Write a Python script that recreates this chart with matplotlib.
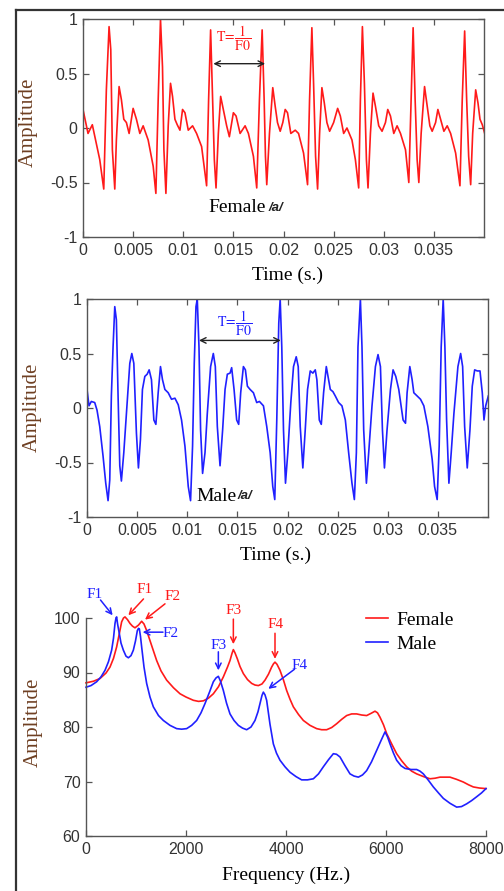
import matplotlib
matplotlib.use("Agg")
import matplotlib.pyplot as plt
from matplotlib.lines import Line2D
import numpy as np

# ---------------- data ----------------
female_t_ms = [0, 0.5, 0.93, 1.67, 2.07, 2.33, 2.6, 2.77, 2.93, 3.17, 3.33, 3.6, 3.83, 4.07, 4.33, 4.6,
               5.0, 5.33, 5.67, 6.0, 6.5, 7.0, 7.27, 7.5, 7.73, 7.93, 8.07, 8.27, 8.5, 8.73, 8.93, 9.17,
               9.4, 9.67, 9.93, 10.17, 10.5, 10.93, 11.33, 11.83, 12.33, 12.53, 12.73, 12.93, 13.1, 13.27,
               13.5, 13.73, 14.0, 14.33, 14.6, 15.0, 15.27, 15.67, 16.17, 16.5, 17.0, 17.33, 17.6, 17.87,
               18.07, 18.2, 18.33, 18.6, 18.93, 19.17, 19.4, 19.67, 19.93, 20.17, 20.4, 20.73, 21.17, 21.5,
               22.0, 22.4, 22.6, 22.83, 23.0, 23.2, 23.4, 23.6, 23.83, 24.07, 24.33, 24.6, 25.0, 25.4,
               25.67, 26.0, 26.33, 26.83, 27.17, 27.5, 27.67, 27.87, 28.07, 28.27, 28.43, 28.67, 28.93,
               29.17, 29.5, 29.83, 30.17, 30.4, 30.67, 31.0, 31.33, 31.67, 32.17, 32.5, 32.73, 32.93,
               33.13, 33.33, 33.5, 33.73, 34.07, 34.33, 34.6, 34.83, 35.17, 35.4, 35.67, 36.0, 36.33,
               36.67, 37.17, 37.6, 37.83, 38.07, 38.27, 38.47, 38.67, 38.87, 39.17, 39.4, 39.6, 39.83, 40.1]
female_amp = [0.17, -0.05, 0.03, -0.29, -0.56, 0.35, 0.93, 0.72, -0.2, -0.56, -0.11, 0.38, 0.26, 0.08, 0.05, -0.05,
              0.18, 0.08, -0.05, 0.02, -0.11, -0.35, -0.6, 0.26, 1.0, 0.56, -0.2, -0.6, 0.02, 0.41, 0.29, 0.08,
              0.03, -0.02, 0.17, 0.14, -0.02, 0.02, -0.05, -0.17, -0.53, 0.26, 0.9, 0.26, -0.29, -0.55,
              -0.05, 0.29, 0.17, 0.02, -0.08, 0.14, 0.11, -0.05, 0.02, -0.05, -0.26, -0.55, 0.26, 0.9,
              0.26, -0.26, -0.52, -0.05, 0.37, 0.2, 0.05, -0.03, 0.05, 0.17, 0.14, -0.05, -0.02, -0.05,
              -0.23, -0.52, 0.26, 0.92, 0.41, -0.26, -0.56, -0.05, 0.37, 0.23, 0.05, -0.03, 0.05, 0.18,
              0.11, -0.05, 0.0, -0.11, -0.29, -0.55, 0.26, 0.93, 0.41, -0.29, -0.55, -0.05, 0.32,
              0.2, 0.02, -0.03, 0.05, 0.17, 0.11, -0.05, 0.02, -0.05, -0.2, -0.5, 0.26, 0.92,
              0.26, -0.29, -0.5, -0.05, 0.38, 0.2, 0.02, -0.03, 0.05, 0.17, 0.08, -0.03, 0.02,
              -0.05, -0.23, -0.53, 0.26, 0.89, 0.26, -0.26, -0.52, -0.05, 0.35, 0.23, 0.08, 0.03, -0.06]

male_t_ms = [0, 0.2, 0.43, 0.77, 1.0, 1.27, 1.6, 1.87, 2.1, 2.27, 2.43, 2.6, 2.77, 2.93, 3.1, 3.27, 3.43,
             3.67, 3.93, 4.27, 4.47, 4.67, 4.93, 5.13, 5.33, 5.53, 5.77, 6.0, 6.2, 6.43, 6.67, 6.87, 7.1,
             7.33, 7.53, 7.77, 8.1, 8.43, 8.77, 9.1, 9.43, 9.77, 10.1, 10.33, 10.53, 10.7, 10.87, 11.0,
             11.17, 11.33, 11.53, 11.77, 12.0, 12.33, 12.6, 12.8, 13.0, 13.27, 13.53, 13.77, 14.0, 14.27,
             14.43, 14.67, 14.93, 15.13, 15.33, 15.6, 15.8, 16.0, 16.27, 16.6, 16.93, 17.2, 17.6, 17.93,
             18.27, 18.53, 18.73, 18.93, 19.13, 19.27, 19.43, 19.6, 19.8, 20.03, 20.33, 20.6, 20.87, 21.07,
             21.27, 21.53, 21.77, 22.0, 22.27, 22.53, 22.77, 22.93, 23.17, 23.37, 23.6, 23.87, 24.1, 24.27,
             24.53, 24.77, 25.1, 25.43, 25.77, 26.1, 26.43, 26.67, 26.87, 27.03, 27.27, 27.43, 27.6, 27.87,
             28.1, 28.43, 28.77, 29.03, 29.27, 29.47, 29.67, 29.93, 30.27, 30.53, 30.8, 31.1, 31.53, 31.77,
             31.93, 32.2, 32.43, 32.6, 32.93, 33.27, 33.6, 34.0, 34.43, 34.67, 34.93, 35.13, 35.33, 35.53,
             35.7, 35.87, 36.1, 36.33, 36.6, 37.0, 37.27, 37.47, 37.67, 37.93, 38.2, 38.43, 38.67, 38.93,
             39.2, 39.43, 39.6, 39.77, 40.03]
male_amp = [0.17, 0.02, 0.06, 0.05, -0.02, -0.17, -0.44, -0.69, -0.85, -0.66, 0.11, 0.56, 0.93, 0.81, 0.11, -0.53, -0.67,
            -0.41, -0.05, 0.41, 0.5, 0.41, -0.23, -0.55, -0.29, 0.17, 0.29, 0.31, 0.35, 0.26, -0.11, -0.15, 0.14,
            0.38, 0.26, 0.17, 0.14, 0.08, 0.09, 0.03, -0.11, -0.35, -0.72, -0.85, -0.35, 0.41, 0.93, 1.0,
            0.56, -0.2, -0.6, -0.41, -0.05, 0.38, 0.5, 0.38, -0.17, -0.53, -0.2, 0.17, 0.31, 0.32,
            0.37, 0.17, -0.11, -0.15, 0.14, 0.38, 0.35, 0.2, 0.17, 0.14, 0.05, 0.06, 0.02, -0.17,
            -0.41, -0.72, -0.84, -0.11, 0.78, 1.0, 0.56, -0.2, -0.69, -0.41, 0.05, 0.38, 0.47, 0.38,
            -0.17, -0.55, -0.2, 0.17, 0.34, 0.32, 0.35, 0.26, -0.11, -0.15, 0.14, 0.38, 0.26, 0.17,
            0.15, 0.11, 0.05, 0.02, -0.11, -0.41, -0.69, -0.84, -0.41, 0.56, 1.0, 0.56, -0.2, -0.69,
            -0.41, 0.02, 0.38, 0.49, 0.38, -0.2, -0.55, -0.2, 0.17, 0.35, 0.29, 0.17, -0.11, -0.14,
            0.14, 0.38, 0.26, 0.14, 0.11, 0.08, 0.02, -0.17, -0.47, -0.72, -0.84, -0.35, 0.56, 1.0,
            0.56, -0.11, -0.69, -0.41, -0.05, 0.38, 0.5, 0.38, -0.17, -0.55, -0.2, 0.2, 0.35, 0.34,
            0.34, 0.14, -0.11, 0.02, 0.11]

female_freq = [0, 150, 280, 400, 480, 550, 613, 670, 713, 750, 780, 830, 880, 930, 980, 1050, 1113, 1160,
               1213, 1300, 1413, 1500, 1613, 1750, 1880, 2000, 2147, 2250, 2347, 2450, 2547, 2650, 2747,
               2830, 2880, 2920, 2947, 2980, 3027, 3080, 3147, 3230, 3313, 3380, 3447, 3520, 3580, 3650,
               3713, 3750, 3780, 3820, 3880, 3950, 4013, 4080, 4147, 4250, 4347, 4480, 4613, 4713, 4813,
               4913, 5013, 5113, 5213, 5313, 5413, 5513, 5613, 5700, 5780, 5830, 5880, 5950, 6013, 6113,
               6213, 6313, 6413, 6513, 6613, 6750, 6880, 6980, 7080, 7180, 7280, 7410, 7547, 7650, 7747,
               7870, 8000]
female_spec = [88.1, 88.4, 88.9, 89.9, 91.0, 92.6, 94.7, 97.3, 99.3, 100.0, 100.2, 99.7, 99.0, 98.5, 98.2, 98.7,
               99.4, 98.9, 97.7, 95.3, 92.2, 90.3, 88.6, 87.2, 86.1, 85.5, 84.9, 84.7, 84.8, 85.3, 86.1,
               87.4, 89.2, 91.0, 92.2, 93.5, 94.2, 93.6, 92.5, 91.1, 89.8, 88.7, 88.0, 87.7, 87.6, 87.9,
               88.6, 89.7, 91.0, 91.6, 91.9, 91.5, 90.4, 88.6, 86.7, 85.1, 83.7, 82.3, 81.2, 80.3, 79.7,
               79.5, 79.5, 79.9, 80.6, 81.4, 82.1, 82.4, 82.4, 82.2, 82.1, 82.5, 82.9, 82.6, 81.8, 80.4,
               78.8, 76.9, 75.1, 73.8, 72.7, 71.9, 71.4, 70.9, 70.5, 70.6, 70.8, 70.8, 70.8, 70.4, 69.9,
               69.4, 69.0, 68.8, 68.7]

male_freq = [0, 100, 213, 300, 380, 450, 513, 550, 580, 600, 613, 630, 667, 700, 747, 800, 847, 900, 947,
             990, 1027, 1050, 1067, 1090, 1113, 1160, 1213, 1280, 1347, 1450, 1547, 1680, 1813, 1913, 2013,
             2113, 2213, 2300, 2380, 2470, 2547, 2600, 2647, 2690, 2747, 2810, 2880, 2960, 3047, 3130, 3213,
             3300, 3380, 3440, 3480, 3520, 3547, 3580, 3613, 3680, 3747, 3810, 3880, 3980, 4080, 4200, 4313,
             4430, 4547, 4650, 4747, 4850, 4947, 5010, 5080, 5180, 5280, 5360, 5447, 5530, 5613, 5710, 5813,
             5900, 5980, 6030, 6080, 6150, 6213, 6300, 6380, 6500, 6613, 6680, 6747, 6850, 6947, 7050, 7147,
             7280, 7413, 7510, 7613, 7713, 7813, 7910, 8000]
male_spec = [87.3, 87.6, 88.3, 89.2, 90.4, 92.0, 94.1, 96.3, 99.0, 100.0, 100.2, 99.0, 97.1, 95.4, 94.1, 93.0,
             92.7, 93.1, 94.1, 95.8, 97.7, 98.1, 98.0, 96.6, 94.7, 91.0, 88.0, 85.5, 83.7, 82.1, 81.2, 80.3,
             79.7, 79.6, 79.7, 80.3, 81.2, 82.6, 84.3, 86.4, 88.3, 89.0, 89.3, 88.4, 86.7, 84.4, 82.4, 81.2,
             80.3, 79.8, 79.5, 80.0, 81.2, 82.8, 84.3, 85.8, 86.4, 85.9, 84.9, 80.5, 76.9, 75.2, 73.9, 72.7,
             71.7, 70.9, 70.3, 70.3, 70.5, 71.4, 72.7, 74.0, 75.1, 75.0, 74.5, 72.9, 71.4, 71.0, 70.8, 71.2,
             72.0, 73.6, 75.7, 77.5, 79.1, 78.2, 76.9, 75.2, 73.9, 72.9, 72.4, 72.2, 72.2, 71.9, 71.4, 70.2,
             69.0, 67.9, 66.9, 66.0, 65.3, 65.4, 65.9, 66.5, 67.2, 67.9, 68.7]

time_ticks = [0, 0.005, 0.01, 0.015, 0.02, 0.025, 0.03, 0.035]
time_tick_labels = ['0', '0.005', '0.01', '0.015', '0.02', '0.025', '0.03', '0.035']
amp_ticks = [-1, -0.5, 0, 0.5, 1]
amp_tick_labels = ['-1', '-0.5', '0', '0.5', '1']
freq_ticks = [0, 2000, 4000, 6000, 8000]
spec_ticks = [60, 70, 80, 90, 100]

# formant annotations
formant_labels = ['F1', 'F1', 'F2', 'F2', 'F3', 'F3', 'F4', 'F4']
formant_text_x = [170, 1180, 1727, 1693, 2947, 2647, 3793, 4280]
formant_text_y = [104.3, 105.3, 104.0, 97.2, 101.3, 95.0, 98.8, 91.3]
formant_tail_x = [290, 1150, 1580, 1540, 2947, 2647, 3780, 4170]
formant_tail_y = [103.3, 103.5, 102.6, 97.4, 99.8, 93.8, 97.2, 90.6]
formant_tip_x = [533, 847, 1180, 1133, 2947, 2647, 3780, 3647]
formant_tip_y = [100.5, 100.5, 99.7, 97.4, 95.2, 90.4, 92.5, 87.0]
formant_is_female = [False, True, True, False, True, False, True, False]

# ---------------- style ----------------
RED = '#ff1a1a'
BLUE = '#2020ff'
LABEL_C = '#6e3f22'
TICK_C = '#333333'
SPINE_C = '#555555'
SERIF = ['Liberation Serif', 'DejaVu Serif']
SANS = ['Liberation Sans', 'DejaVu Sans']
plt.rcParams['mathtext.fontset'] = 'stix'

fig = plt.figure(figsize=(5.04, 8.91), dpi=100)
fig.patch.set_facecolor('white')

# outer frame (top and left only visible)
fig.add_artist(Line2D([16 / 504, 1.0], [1 - 9.5 / 891, 1 - 9.5 / 891], color='#333333', lw=1.6))
fig.add_artist(Line2D([16 / 504, 16 / 504], [0.0, 1 - 9.5 / 891], color='#333333', lw=1.6))


def style_axes(ax, full_box=True):
    for s in ax.spines.values():
        s.set_color(SPINE_C)
        s.set_linewidth(1.0)
    if not full_box:
        ax.spines['top'].set_visible(False)
        ax.spines['right'].set_visible(False)
    ax.tick_params(direction='in', length=4, width=0.9, color=SPINE_C,
                   top=full_box, right=full_box, labelsize=11.5, labelcolor=TICK_C, pad=4)
    for lab in ax.get_xticklabels() + ax.get_yticklabels():
        lab.set_family(SANS)


FRAC = r'$\mathrm{T}\!=\!\dfrac{1}{\mathrm{F0}}$'

# ---- top: female waveform ----
ax1 = fig.add_axes([83 / 504, 1 - 237 / 891, 401 / 504, 218 / 891])
ax1.plot(np.array(female_t_ms) / 1000.0, female_amp, color=RED, lw=1.2)
ax1.set_xlim(0, 0.04)
ax1.set_ylim(-1, 1)
ax1.set_xticks(time_ticks)
ax1.set_xticklabels(time_tick_labels)
ax1.set_yticks(amp_ticks)
ax1.set_yticklabels(amp_tick_labels)
style_axes(ax1)
ax1.set_xlabel('Time (s.)', family=SERIF, fontsize=14, color='black')
ax1.xaxis.set_label_coords(0.51, -0.135)
ax1.set_ylabel('Amplitude', family=SERIF, fontsize=15, color=LABEL_C)
ax1.yaxis.set_label_coords(-0.112, 0.525)
ax1.annotate('', xy=(0.0130, 0.59), xytext=(0.01817, 0.59),
             arrowprops=dict(arrowstyle='<->', color='#222222', lw=1.0, shrinkA=0, shrinkB=0))
ax1.text(0.0150, 0.82, FRAC, color=RED, fontsize=10, ha='center', va='center')
ax1.text(0.0125, -0.73, 'Female', family=SERIF, fontsize=14, ha='left', va='center', color='black')
ax1.text(0.0185, -0.73, '/a/', family=SANS, fontsize=9.5, style='italic', weight='bold',
         ha='left', va='center', color='#222222')

# ---- middle: male waveform ----
ax2 = fig.add_axes([87 / 504, 1 - 517 / 891, 401 / 504, 218 / 891])
ax2.plot(np.array(male_t_ms) / 1000.0, male_amp, color=BLUE, lw=1.2)
ax2.set_xlim(0, 0.04)
ax2.set_ylim(-1, 1)
ax2.set_xticks(time_ticks)
ax2.set_xticklabels(time_tick_labels)
ax2.set_yticks(amp_ticks)
ax2.set_yticklabels(amp_tick_labels)
style_axes(ax2)
ax2.set_xlabel('Time (s.)', family=SERIF, fontsize=14, color='black')
ax2.xaxis.set_label_coords(0.47, -0.138)
ax2.set_ylabel('Amplitude', family=SERIF, fontsize=15, color=LABEL_C)
ax2.yaxis.set_label_coords(-0.112, 0.505)
ax2.annotate('', xy=(0.01117, 0.62), xytext=(0.01933, 0.62),
             arrowprops=dict(arrowstyle='<->', color='#222222', lw=1.0, shrinkA=0, shrinkB=0))
ax2.text(0.01477, 0.78, FRAC, color=BLUE, fontsize=10, ha='center', va='center')
ax2.text(0.01087, -0.81, 'Male', family=SERIF, fontsize=14, ha='left', va='center', color='black')
ax2.text(0.0150, -0.81, '/a/', family=SANS, fontsize=9.5, style='italic', weight='bold',
         ha='left', va='center', color='#222222')

# ---- bottom: spectra ----
ax3 = fig.add_axes([86 / 504, 1 - 836 / 891, 400 / 504, 218 / 891])
ax3.plot(female_freq, female_spec, color=RED, lw=1.2, label='Female', clip_on=False)
ax3.plot(male_freq, male_spec, color=BLUE, lw=1.2, label='Male', clip_on=False)
ax3.set_xlim(0, 8000)
ax3.set_ylim(60, 100)
ax3.set_xticks(freq_ticks)
ax3.set_yticks(spec_ticks)
style_axes(ax3, full_box=False)
ax3.set_xlabel('Frequency (Hz.)', family=SERIF, fontsize=14, color='black')
ax3.xaxis.set_label_coords(0.5, -0.14)
ax3.set_ylabel('Amplitude', family=SERIF, fontsize=15, color=LABEL_C)
ax3.yaxis.set_label_coords(-0.107, 0.523)
leg = ax3.legend(loc='upper left', bbox_to_anchor=(0.70, 1.03), frameon=False,
                 prop={'family': SERIF, 'size': 14}, handlelength=1.15, handletextpad=0.4,
                 labelspacing=0.3, borderpad=0, borderaxespad=0)

for lab, tx, ty, ax_, ay_, px, py, fem in zip(formant_labels, formant_text_x, formant_text_y,
                                            formant_tail_x, formant_tail_y, formant_tip_x,
                                            formant_tip_y, formant_is_female):
    c = RED if fem else BLUE
    ax3.text(tx, ty, lab, color=c, family=SERIF, fontsize=11, ha='center', va='center',
             clip_on=False)
    ax3.annotate('', xy=(px, py), xytext=(ax_, ay_), annotation_clip=False,
                 arrowprops=dict(arrowstyle='->', color=c, lw=1.1, shrinkA=0, shrinkB=0,
                                 mutation_scale=10))

fig.savefig('out.png', dpi=100, facecolor='white')
